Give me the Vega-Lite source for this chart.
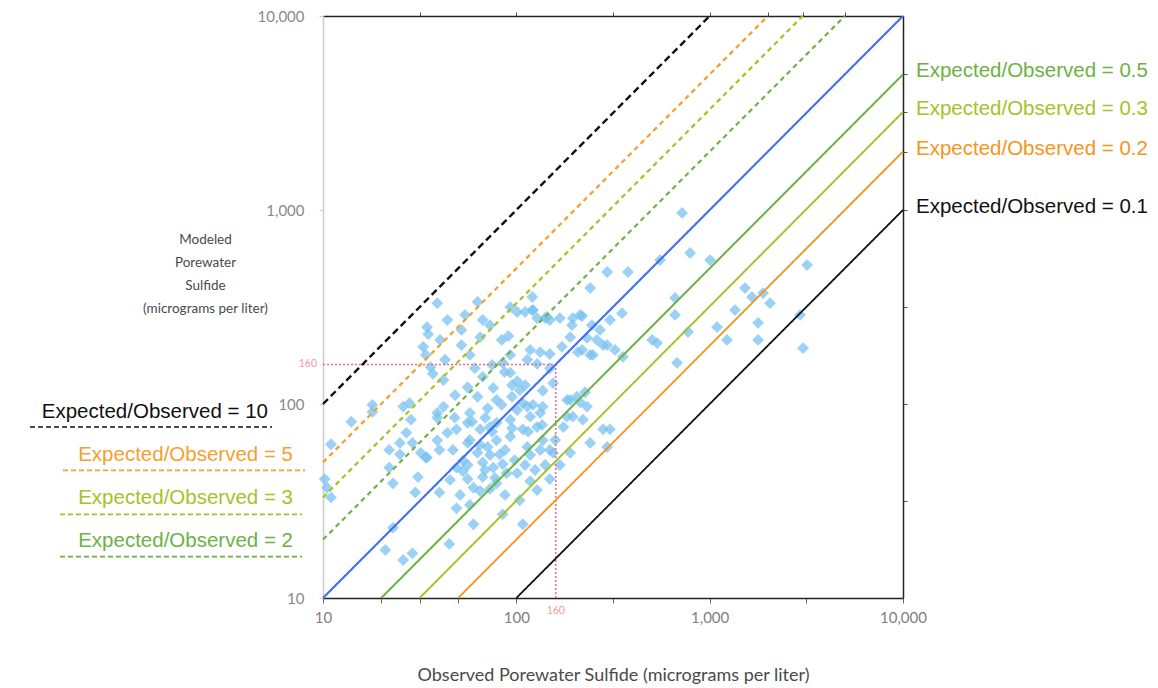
{
  "$schema": "https://vega.github.io/schema/vega-lite/v6.json",
  "width": 580,
  "height": 582,
  "autosize": {"type": "none"},
  "padding": {"left": 323, "top": 16, "right": 255, "bottom": 90},
  "background": "white",
  "config": {"view": {"stroke": null}, "axis": {"grid": false}},
  "resolve": {"axis": {"x": "independent", "y": "independent"}},
  "datasets": {
    "points": [
      {"observed":39,"modeled":331},{"observed":63,"modeled":336},{"observed":67,"modeled":271},{"observed":73,"modeled":255},
      {"observed":34.5,"modeled":249},{"observed":35,"modeled":229},{"observed":44,"modeled":271},{"observed":52,"modeled":241},
      {"observed":65,"modeled":221},{"observed":84,"modeled":214},{"observed":91,"modeled":224},{"observed":101,"modeled":298},
      {"observed":121,"modeled":305},{"observed":128,"modeled":277},{"observed":149,"modeled":271},{"observed":168,"modeled":277},
      {"observed":196,"modeled":277},{"observed":219,"modeled":284},{"observed":241,"modeled":396},{"observed":232,"modeled":219},
      {"observed":271,"modeled":241},{"observed":281,"modeled":201},{"observed":33,"modeled":197},{"observed":34,"modeled":179},
      {"observed":52,"modeled":201},{"observed":36,"modeled":155},{"observed":37,"modeled":143},{"observed":42,"modeled":133},
      {"observed":56,"modeled":122},{"observed":67,"modeled":138},{"observed":75,"modeled":159},{"observed":85,"modeled":163},
      {"observed":93,"modeled":145},{"observed":101,"modeled":131},{"observed":118,"modeled":190},{"observed":133,"modeled":185},
      {"observed":149,"modeled":181},{"observed":93,"modeled":179},{"observed":114,"modeled":169},{"observed":128,"modeled":161},
      {"observed":149,"modeled":153},{"observed":104,"modeled":118},{"observed":137,"modeled":117},{"observed":155,"modeled":128},
      {"observed":76,"modeled":121},{"observed":63,"modeled":109},{"observed":79,"modeled":105},{"observed":95,"modeled":109},
      {"observed":108,"modeled":101},{"observed":122,"modeled":99},{"observed":133,"modeled":90},{"observed":118,"modeled":86},
      {"observed":93,"modeled":83},{"observed":79,"modeled":80},{"observed":73,"modeled":76},{"observed":65,"modeled":74},
      {"observed":56,"modeled":80},{"observed":49,"modeled":74},{"observed":42,"modeled":97},{"observed":39,"modeled":90},
      {"observed":28,"modeled":101},{"observed":26,"modeled":97},{"observed":18,"modeled":99},{"observed":18,"modeled":91},
      {"observed":14,"modeled":81},{"observed":11,"modeled":62},{"observed":27,"modeled":71},{"observed":25,"modeled":63},
      {"observed":22,"modeled":58},{"observed":29,"modeled":63},{"observed":32,"modeled":56},{"observed":39,"modeled":65},
      {"observed":40,"modeled":58},{"observed":47,"modeled":58},{"observed":53,"modeled":51},{"observed":63,"modeled":56},
      {"observed":71,"modeled":60},{"observed":79,"modeled":65},{"observed":93,"modeled":68},{"observed":108,"modeled":74},
      {"observed":114,"modeled":60},{"observed":137,"modeled":65},{"observed":137,"modeled":97},{"observed":183,"modeled":105},
      {"observed":206,"modeled":109},{"observed":232,"modeled":97},{"observed":196,"modeled":86},{"observed":221,"modeled":83},
      {"observed":281,"modeled":74},{"observed":295,"modeled":60},{"observed":241,"modeled":63},{"observed":190,"modeled":56},
      {"observed":155,"modeled":56},{"observed":175,"modeled":76},{"observed":128,"modeled":76},{"observed":10.5,"modeled":37},
      {"observed":11,"modeled":33},{"observed":10.2,"modeled":41},{"observed":22,"modeled":47},{"observed":23,"modeled":39},
      {"observed":25,"modeled":55},{"observed":34.5,"modeled":53},{"observed":44,"modeled":71},{"observed":56,"modeled":63},
      {"observed":82,"modeled":55},{"observed":67,"modeled":50},{"observed":56,"modeled":48.5},{"observed":49,"modeled":47},
      {"observed":53,"modeled":45},{"observed":56,"modeled":41},{"observed":60,"modeled":37},{"observed":67,"modeled":42},
      {"observed":76,"modeled":47},{"observed":85,"modeled":49},{"observed":89,"modeled":44},{"observed":79,"modeled":39},
      {"observed":73,"modeled":36.5},{"observed":65,"modeled":35.6},{"observed":101,"modeled":44},{"observed":118,"modeled":40},
      {"observed":128,"modeled":36},{"observed":149,"modeled":41},{"observed":149,"modeled":58},{"observed":49,"modeled":29},
      {"observed":31,"modeled":42},{"observed":23,"modeled":23},{"observed":21,"modeled":17.7},{"observed":26,"modeled":15.7},
      {"observed":29,"modeled":17},{"observed":45,"modeled":19},{"observed":60,"modeled":24},{"observed":85,"modeled":27},
      {"observed":108,"modeled":24},{"observed":101,"modeled":93},{"observed":114,"modeled":97},{"observed":720,"modeled":966},
      {"observed":792,"modeled":600},{"observed":1005,"modeled":552},{"observed":554,"modeled":552},{"observed":295,"modeled":479},
      {"observed":378,"modeled":479},{"observed":662,"modeled":352},{"observed":662,"modeled":288},{"observed":1524,"modeled":396},
      {"observed":1656,"modeled":356},{"observed":1889,"modeled":373},{"observed":2053,"modeled":331},{"observed":1352,"modeled":305},
      {"observed":1092,"modeled":249},{"observed":773,"modeled":235},{"observed":1230,"modeled":214},{"observed":1780,"modeled":262},
      {"observed":1780,"modeled":214},{"observed":3190,"modeled":520},{"observed":2937,"modeled":288},{"observed":3041,"modeled":194},
      {"observed":504,"modeled":214},{"observed":535,"modeled":206},{"observed":678,"modeled":163},{"observed":305,"modeled":74},
      {"observed":352,"modeled":294},{"observed":305,"modeled":271},{"observed":246,"modeled":255},{"observed":214,"modeled":288},
      {"observed":194,"modeled":255},{"observed":190,"modeled":221},{"observed":219,"modeled":190},{"observed":241,"modeled":179},
      {"observed":172,"modeled":197},{"observed":295,"modeled":201},{"observed":324,"modeled":190},{"observed":190,"modeled":105},
      {"observed":183,"modeled":86},{"observed":121,"modeled":356},{"observed":93,"modeled":316},{"observed":144,"modeled":281},
      {"observed":122,"modeled":305},{"observed":356,"modeled":175},{"observed":30,"modeled":35},{"observed":40,"modeled":35},
      {"observed":34,"modeled":53},{"observed":28.5,"modeled":83},{"observed":39,"modeled":85},{"observed":48,"modeled":85},
      {"observed":87,"modeled":146},{"observed":95,"modeled":125},{"observed":111,"modeled":125},{"observed":84,"modeled":99},
      {"observed":69,"modeled":85},{"observed":59,"modeled":81},{"observed":136,"modeled":78},{"observed":115,"modeled":72},
      {"observed":95,"modeled":75},{"observed":75,"modeled":72},{"observed":214,"modeled":102},{"observed":227,"modeled":115},
      {"observed":249,"modeled":179},{"observed":208,"modeled":185},{"observed":261,"modeled":214},{"observed":71,"modeled":95},
      {"observed":61,"modeled":153},{"observed":141,"modeled":277},{"observed":111,"modeled":298},
      {"observed":57.5,"modeled":65.2},{"observed":64.9,"modeled":61.5},{"observed":73.1,"modeled":54.6},{"observed":87.4,"modeled":57.9},
      {"observed":98,"modeled":51.4},{"observed":111,"modeled":48.5},{"observed":125,"modeled":45.7},{"observed":141,"modeled":48.5},
      {"observed":104,"modeled":31.9},{"observed":87.4,"modeled":34},{"observed":57.5,"modeled":30.2},{"observed":51.2,"modeled":34},
      {"observed":45.4,"modeled":40.6},{"observed":68.9,"modeled":45.7},{"observed":77.6,"modeled":41.6},{"observed":118,"modeled":54.6},
      {"observed":133,"modeled":57.9},{"observed":159,"modeled":65.2},{"observed":168,"modeled":48.5},{"observed":57.5,"modeled":89.9},
      {"observed":48.2,"modeled":111},{"observed":42.8,"modeled":169},{"observed":40.3,"modeled":214},{"observed":57.5,"modeled":179},
      {"observed":54.3,"modeled":288}
    ],
    "lines": [
      {"ratio":"10","observed":10,"modeled":100},{"ratio":"10","observed":1000,"modeled":10000},
      {"ratio":"5","observed":10,"modeled":50},{"ratio":"5","observed":2000,"modeled":10000},
      {"ratio":"3","observed":10,"modeled":33},{"ratio":"3","observed":3030,"modeled":10000},
      {"ratio":"2","observed":10,"modeled":20},{"ratio":"2","observed":5000,"modeled":10000},
      {"ratio":"1","observed":10,"modeled":10},{"ratio":"1","observed":10000,"modeled":10000},
      {"ratio":"0.5","observed":20,"modeled":10},{"ratio":"0.5","observed":10000,"modeled":5000},
      {"ratio":"0.3","observed":31.6,"modeled":10},{"ratio":"0.3","observed":10000,"modeled":3200},
      {"ratio":"0.2","observed":50,"modeled":10},{"ratio":"0.2","observed":10000,"modeled":2000},
      {"ratio":"0.1","observed":100,"modeled":10},{"ratio":"0.1","observed":10000,"modeled":1000}
    ],
    "labels": [
      {"ratio":"10","side":"left","label":"Expected/Observed = 10","observed":10,"modeled":100},
      {"ratio":"5","side":"left","label":"Expected/Observed = 5","observed":10,"modeled":50},
      {"ratio":"3","side":"left","label":"Expected/Observed = 3","observed":10,"modeled":33},
      {"ratio":"2","side":"left","label":"Expected/Observed = 2","observed":10,"modeled":20},
      {"ratio":"0.5","side":"right","label":"Expected/Observed = 0.5","observed":10000,"modeled":5000},
      {"ratio":"0.3","side":"right","label":"Expected/Observed = 0.3","observed":10000,"modeled":3200},
      {"ratio":"0.2","side":"right","label":"Expected/Observed = 0.2","observed":10000,"modeled":2000},
      {"ratio":"0.1","side":"right","label":"Expected/Observed = 0.1","observed":10000,"modeled":1000}
    ],
    "ref": [
      {"obsFrom":10,"obsTo":160,"modFrom":160,"modTo":160},
      {"obsFrom":160,"obsTo":160,"modFrom":10,"modTo":160}
    ],
    "refLabels": [
      {"observed":10,"modeled":160,"text":"160","axis":"y"},
      {"observed":160,"modeled":10,"text":"160","axis":"x"}
    ]
  },
  "layer": [
    {
      "data": {"name": "points"},
      "mark": {"type": "point", "shape": "diamond", "filled": true, "size": 140, "color": "#78c2f0", "opacity": 0.75},
      "encoding": {
        "x": {"field": "observed", "type": "quantitative", "scale": {"type": "log", "domain": [10, 10000], "nice": false},
          "axis": {"orient": "bottom", "values": [10, 20, 31.6, 50, 100, 316, 1000, 3162, 10000],
            "labelExpr": "(datum.value==10||datum.value==100||datum.value==1000||datum.value==10000)?format(datum.value,','):''",
            "labelFont": "Lato", "labelFontSize": 15, "labelColor": "#808080", "labelPadding": 7, "labelFlush": false, "labelOverlap": false,
            "tickSize": 5, "tickColor": "#666", "domainColor": "#222", "domainWidth": 1.5,
            "title": "Observed Porewater Sulfide (micrograms per liter)", "titleFont": "Lato", "titleFontSize": 18,
            "titleFontWeight": "normal", "titleColor": "#4a4a4a", "titleY": 77, "titleBaseline": "middle"}},
        "y": {"field": "modeled", "type": "quantitative", "scale": {"type": "log", "domain": [10, 10000], "nice": false},
          "axis": {"orient": "left", "values": [10, 100, 1000, 10000], "format": ",",
            "labelFont": "Lato", "labelFontSize": 15, "labelColor": "#8a8a8a", "labelPadding": 15, "labelFlush": false, "labelOverlap": false,
            "tickSize": 4, "tickColor": "#ccc", "domainColor": "#ccc", "domainWidth": 1.5,
            "title": ["Modeled", "Porewater", "Sulfide", "(micrograms per liter)"], "titleAngle": 0, "titleAlign": "center",
            "titleBaseline": "top", "titleX": -118, "titleY": 216, "titleLineHeight": 23, "titleFont": "Lato",
            "titleFontSize": 13.5, "titleFontWeight": "normal", "titleColor": "#4a4a4a"}}
      }
    },
    {
      "data": {"name": "ref"},
      "mark": {"type": "rule", "color": "#ef6b7b", "strokeDash": [2, 2], "strokeWidth": 1.5},
      "encoding": {
        "x": {"field": "obsFrom", "type": "quantitative", "scale": {"type": "log", "domain": [10, 10000], "nice": false}, "axis": null},
        "x2": {"field": "obsTo"},
        "y": {"field": "modFrom", "type": "quantitative", "scale": {"type": "log", "domain": [10, 10000], "nice": false}, "axis": null},
        "y2": {"field": "modTo"}
      }
    },
    {
      "data": {"name": "refLabels"},
      "transform": [{"filter": "datum.axis === 'y'"}],
      "mark": {"type": "text", "align": "right", "baseline": "middle", "dx": -6, "font": "Lato", "fontSize": 10.5, "color": "#f39aa4"},
      "encoding": {
        "x": {"field": "observed", "type": "quantitative", "scale": {"type": "log", "domain": [10, 10000], "nice": false}, "axis": null},
        "y": {"field": "modeled", "type": "quantitative", "scale": {"type": "log", "domain": [10, 10000], "nice": false}, "axis": null},
        "text": {"field": "text"}
      }
    },
    {
      "data": {"name": "refLabels"},
      "transform": [{"filter": "datum.axis === 'x'"}],
      "mark": {"type": "text", "align": "center", "baseline": "top", "dy": 8, "font": "Lato", "fontSize": 10.5, "color": "#f39aa4"},
      "encoding": {
        "x": {"field": "observed", "type": "quantitative", "scale": {"type": "log", "domain": [10, 10000], "nice": false}, "axis": null},
        "y": {"field": "modeled", "type": "quantitative", "scale": {"type": "log", "domain": [10, 10000], "nice": false}, "axis": null},
        "text": {"field": "text"}
      }
    },
    {
      "data": {"name": "lines"},
      "mark": {"type": "line"},
      "encoding": {
        "x": {"field": "observed", "type": "quantitative", "scale": {"type": "log", "domain": [10, 10000], "nice": false},
          "axis": {"orient": "top", "values": [31.6, 100, 316, 1000, 2000, 3030, 5000], "labels": false, "tickSize": 4,
            "tickColor": "#555", "domainColor": "#222", "domainWidth": 1.5, "title": null}},
        "y": {"field": "modeled", "type": "quantitative", "scale": {"type": "log", "domain": [10, 10000], "nice": false},
          "axis": {"orient": "right", "values": [31.6, 100, 316, 1000, 2000, 3200, 5000], "labels": false, "tickSize": 4,
            "tickColor": "#555", "domainColor": "#222", "domainWidth": 1.5, "title": null}},
        "color": {"field": "ratio", "type": "nominal", "legend": null,
          "scale": {"domain": ["10", "5", "3", "2", "1", "0.5", "0.3", "0.2", "0.1"],
            "range": ["#111111", "#f5a030", "#a8c128", "#6cb244", "#3d6ef2", "#6cb244", "#a8c128", "#f7941d", "#111111"]}},
        "strokeDash": {"field": "ratio", "type": "nominal", "legend": null,
          "scale": {"domain": ["10", "5", "3", "2", "1", "0.5", "0.3", "0.2", "0.1"],
            "range": [[7, 4], [5, 4], [5, 4], [5, 4], [1, 0], [1, 0], [1, 0], [1, 0], [1, 0]]}},
        "strokeWidth": {"field": "ratio", "type": "nominal", "legend": null,
          "scale": {"domain": ["10", "5", "3", "2", "1", "0.5", "0.3", "0.2", "0.1"],
            "range": [2.4, 1.8, 1.8, 1.8, 1.8, 1.8, 1.8, 2, 2]}}
      }
    },
    {
      "data": {"name": "labels"},
      "transform": [{"filter": "datum.side === 'right'"}],
      "mark": {"type": "text", "align": "left", "baseline": "middle", "dx": 13, "dy": -3, "font": "Liberation Sans", "fontSize": 20.5},
      "encoding": {
        "x": {"field": "observed", "type": "quantitative", "scale": {"type": "log", "domain": [10, 10000], "nice": false}, "axis": null},
        "y": {"field": "modeled", "type": "quantitative", "scale": {"type": "log", "domain": [10, 10000], "nice": false}, "axis": null},
        "text": {"field": "label"},
        "color": {"field": "ratio", "type": "nominal", "legend": null}
      }
    },
    {
      "data": {"name": "labels"},
      "transform": [{"filter": "datum.ratio === '10'"}],
      "encoding": {
        "x": {"field": "observed", "type": "quantitative", "scale": {"type": "log", "domain": [10, 10000], "nice": false}, "axis": null},
        "y": {"field": "modeled", "type": "quantitative", "scale": {"type": "log", "domain": [10, 10000], "nice": false}, "axis": null},
        "color": {"field": "ratio", "type": "nominal", "legend": null}
      },
      "layer": [
        {"mark": {"type": "text", "align": "right", "baseline": "middle", "dx": -55, "dy": 8, "font": "Liberation Sans", "fontSize": 20.5},
         "encoding": {"text": {"field": "label"}}},
        {"mark": {"type": "rule", "strokeDash": [5, 3], "strokeWidth": 1.6, "xOffset": -293, "x2Offset": -51, "yOffset": 23},
         "encoding": {"x2": {"field": "observed"}}}
      ]
    },
    {
      "data": {"name": "labels"},
      "transform": [{"filter": "datum.ratio === '5'"}],
      "encoding": {
        "x": {"field": "observed", "type": "quantitative", "scale": {"type": "log", "domain": [10, 10000], "nice": false}, "axis": null},
        "y": {"field": "modeled", "type": "quantitative", "scale": {"type": "log", "domain": [10, 10000], "nice": false}, "axis": null},
        "color": {"field": "ratio", "type": "nominal", "legend": null}
      },
      "layer": [
        {"mark": {"type": "text", "align": "right", "baseline": "middle", "dx": -30, "dy": -7, "font": "Liberation Sans", "fontSize": 20.5},
         "encoding": {"text": {"field": "label"}}},
        {"mark": {"type": "rule", "strokeDash": [5, 3], "strokeWidth": 1.6, "xOffset": -260, "x2Offset": -18, "yOffset": 8},
         "encoding": {"x2": {"field": "observed"}}}
      ]
    },
    {
      "data": {"name": "labels"},
      "transform": [{"filter": "datum.ratio === '3' || datum.ratio === '2'"}],
      "encoding": {
        "x": {"field": "observed", "type": "quantitative", "scale": {"type": "log", "domain": [10, 10000], "nice": false}, "axis": null},
        "y": {"field": "modeled", "type": "quantitative", "scale": {"type": "log", "domain": [10, 10000], "nice": false}, "axis": null},
        "color": {"field": "ratio", "type": "nominal", "legend": null}
      },
      "layer": [
        {"mark": {"type": "text", "align": "right", "baseline": "middle", "dx": -30, "dy": 1, "font": "Liberation Sans", "fontSize": 20.5},
         "encoding": {"text": {"field": "label"}}},
        {"mark": {"type": "rule", "strokeDash": [5, 3], "strokeWidth": 1.6, "xOffset": -263, "x2Offset": -21, "yOffset": 17},
         "encoding": {"x2": {"field": "observed"}}}
      ]
    }
  ]
}
